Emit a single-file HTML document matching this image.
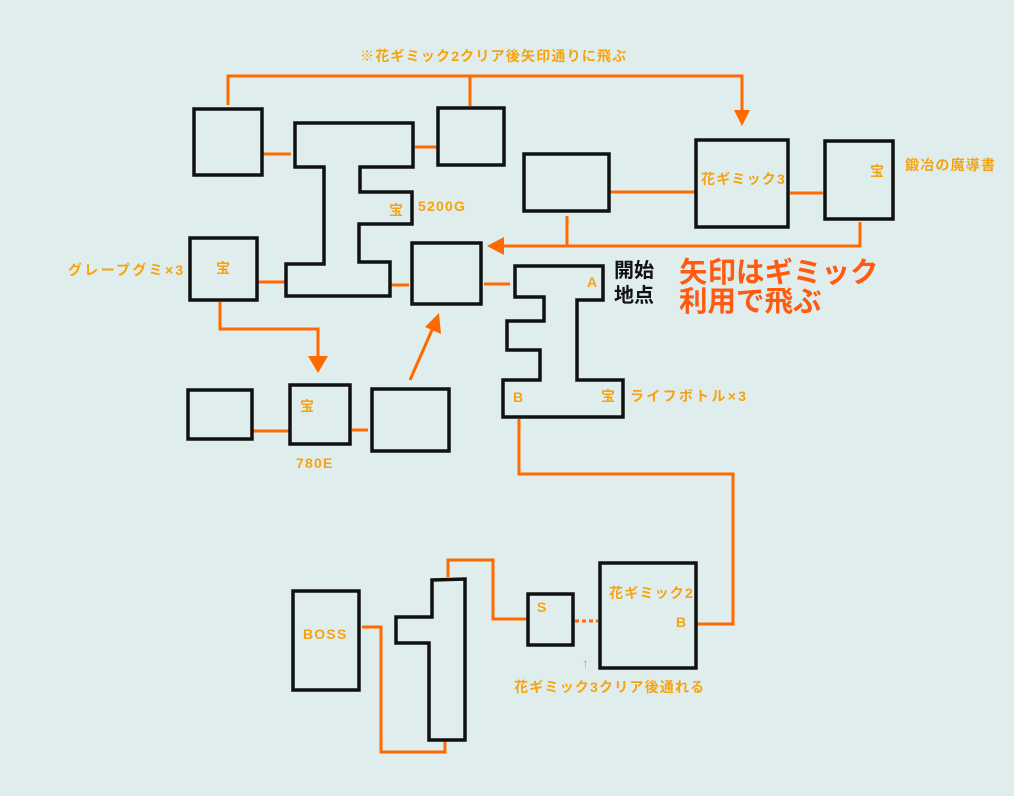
<!DOCTYPE html>
<html><head><meta charset="utf-8"><style>
html,body{margin:0;padding:0;background:#dfeeed;}
svg{display:block}
text{font-family:"Liberation Sans","Noto Sans CJK JP",sans-serif;font-weight:bold;}
</style></head><body>
<svg width="1014" height="796" viewBox="0 0 1014 796" xmlns="http://www.w3.org/2000/svg">
<rect width="1014" height="796" fill="#dfeeed"/>
<g fill="none" stroke="#ff6a00" stroke-width="3">
<polyline points="228,105 228,76 742,76 742,110"/>
<line x1="470" y1="76" x2="470" y2="106"/>
<line x1="262" y1="154" x2="291" y2="154"/>
<line x1="415" y1="147" x2="438" y2="147"/>
<line x1="609" y1="192" x2="695" y2="192"/>
<line x1="790" y1="193" x2="823" y2="193"/>
<polyline points="860,222 860,246 500,246"/>
<line x1="567" y1="216" x2="567" y2="246"/>
<line x1="389" y1="285" x2="409" y2="285"/>
<line x1="484" y1="284" x2="510" y2="284"/>
<polyline points="519,419 519,474 733,474 733,624 697,624"/>
<line x1="257" y1="282" x2="285" y2="282"/>
<polyline points="220,302 220,329 318,329 318,356"/>
<line x1="252" y1="431" x2="290" y2="431"/>
<line x1="352" y1="430" x2="368" y2="430"/>
<line x1="410" y1="380" x2="432" y2="330"/>
<polyline points="362,627 381,627 381,752 445,752 445,741"/>
<polyline points="448,577 448,560 493,560 493,619 527,619"/>
<line x1="575" y1="621" x2="598" y2="621" stroke-dasharray="4,3"/>
</g>
<g fill="#ff6a00">
<polygon points="734,110 750,110 742,126"/>
<polygon points="487,246 504,237 504,255"/>
<polygon points="308,356 328,356 318,373"/>
<polygon points="439,313 441,334 425,327"/>
</g>
<g fill="none" stroke="#111" stroke-width="3.5" stroke-linejoin="miter">
<rect x="194" y="109" width="68" height="66"/>
<polygon points="295,123 413,123 413,167 360,167 360,192 412,192 412,224 359,224 359,262 390,262 390,296 286,296 286,264 324,264 324,167 295,167"/>
<rect x="438" y="108" width="66" height="57"/>
<rect x="524" y="154" width="85" height="57"/>
<rect x="696" y="140" width="92" height="87"/>
<rect x="825" y="141" width="68" height="78"/>
<rect x="412" y="243" width="69" height="61"/>
<polygon points="515,266 603,266 603,300 577,300 577,380 623,380 623,417 503,417 503,380 540,380 540,350 507,350 507,321 544,321 544,297 515,297"/>
<rect x="190" y="238" width="67" height="62"/>
<rect x="188" y="390" width="64" height="49"/>
<rect x="290" y="385" width="60" height="59"/>
<rect x="372" y="389" width="77" height="62"/>
<rect x="293" y="591" width="66" height="99"/>
<polygon points="432,580 465,579 465,740 429,740 429,643 396,643 396,617 432,617"/>
<rect x="528" y="594" width="45" height="51"/>
<rect x="600" y="563" width="96" height="105"/>
</g>
<g fill="#f7a20f" font-size="14" letter-spacing="1.2">
<text x="360" y="61">※花ギミック2クリア後矢印通りに飛ぶ</text>
<text x="389" y="215">宝</text>
<text x="418" y="211">5200G</text>
<text x="701" y="184">花ギミック3</text>
<text x="870" y="176">宝</text>
<text x="905" y="170">鍛冶の魔導書</text>
<text x="587" y="287">A</text>
<text x="513" y="402">B</text>
<text x="601" y="401">宝</text>
<text x="630" y="401" letter-spacing="2.3">ライフボトル×3</text>
<text x="216" y="273">宝</text>
<text x="68" y="275" letter-spacing="2.3">グレープグミ×3</text>
<text x="300" y="411">宝</text>
<text x="296" y="468">780E</text>
<text x="303" y="639">BOSS</text>
<text x="537" y="612">S</text>
<text x="609" y="598">花ギミック2</text>
<text x="676" y="627">B</text>
<text x="582" y="668" font-weight="normal">↑</text>
<text x="514" y="692">花ギミック3クリア後通れる</text>
</g>
<g fill="#111" font-size="20">
<text x="614" y="277">開始</text>
<text x="614" y="302">地点</text>
</g>
<g fill="#ff5a10" font-size="28.5">
<text x="679" y="282">矢印はギミック</text>
<text x="679" y="311">利用で飛ぶ</text>
</g>
</svg>
</body></html>
